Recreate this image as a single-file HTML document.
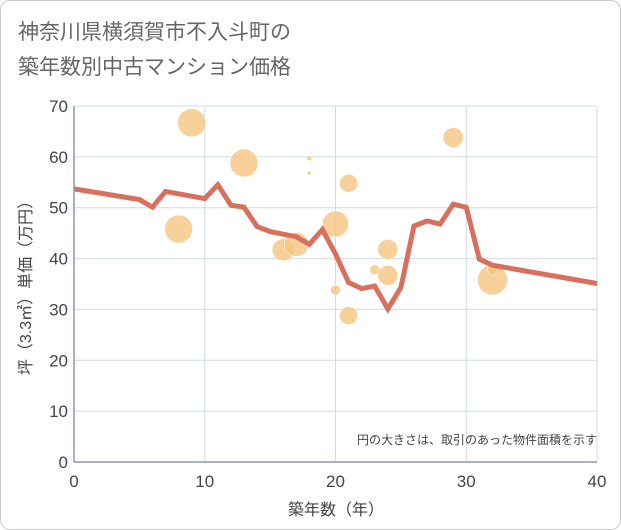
<!DOCTYPE html>
<html><head><meta charset="utf-8"><style>
body{margin:0;background:#fff;font-family:"Liberation Sans","Noto Sans CJK JP",sans-serif;}
#wrap{position:relative;width:619px;height:528px;border:1px solid #ccc;border-radius:10px;overflow:hidden;}
</style></head><body>
<div id="wrap">
<svg id="chart" width="621" height="530" font-family="Liberation Sans, Noto Sans CJK JP, sans-serif">
<text x="17" y="38" font-size="21" fill="#666">神奈川県横須賀市不入斗町の</text>
<text x="17" y="73" font-size="21" fill="#666">築年数別中古マンション価格</text>
<g id="grid"></g><g id="bubbles"></g><g id="line"></g><g id="axes"></g>
<text x="596" y="443" font-size="12" fill="#444" text-anchor="end">円の大きさは、取引のあった物件面積を示す</text>
<text x="335" y="514" font-size="16" fill="#444" text-anchor="middle">築年数（年）</text>
<text transform="translate(30,283) rotate(-90)" font-size="16" fill="#444" text-anchor="middle">坪（3.3㎡）単価（万円）</text>
</svg></div>
<script>
const xTicks=[0,10,20,30,40];
const yTicks=[0,10,20,30,40,50,60,70];
const lineYears=[0,5,6,7,10,11,12,13,14,15,17,18,19,20,21,22,23,24,25,26,27,28,29,30,31,32,40];
const lineValues=[53.7,51.6,50.1,53.2,51.8,54.5,50.5,50.1,46.3,45.3,44.3,42.8,45.7,40.9,35.3,34.1,34.6,30.1,34.3,46.4,47.4,46.8,50.7,50.1,39.9,38.7,35.1];
const bubbleYears=[9,13,18,18,21,8,16,17,20,20,20,21,23,24,24,29,32,32];
const bubbleValues=[66.7,58.8,59.7,56.8,54.8,45.8,41.7,42.8,46.8,39.9,33.8,28.8,37.8,41.8,36.7,63.8,35.8,37.8];
const bubbleSizes=[14,14,2.5,2,9,14,11,12,13,2,5,9,5,10,10,10,15,5];
const X=v=>73+v*523/40, Y=v=>461-v*356/70;
const NS="http://www.w3.org/2000/svg";
function mk(t,a,p){const e=document.createElementNS(NS,t);for(const k in a)e.setAttribute(k,a[k]);p.appendChild(e);return e;}
const grid=document.getElementById('grid'),axes=document.getElementById('axes');
xTicks.forEach(t=>{const l=mk('line',{x1:X(t),x2:X(t),y1:Y(70),y2:Y(0),stroke:'#cfdbe8','stroke-width':1},grid);


const tx=mk('text',{x:X(t),y:486,'font-size':17,fill:'#445','text-anchor':'middle'},axes);tx.textContent=t;

});
yTicks.forEach(t=>{const l=mk('line',{x1:X(0),x2:X(40),y1:Y(t),y2:Y(t),stroke:'#cfdbe8','stroke-width':1},grid);


const tx=mk('text',{x:67,y:Y(t)+6,'font-size':17,fill:'#445','text-anchor':'end'},axes);tx.textContent=t;

});
const ax=mk('line',{x1:X(0),x2:X(0),y1:Y(70),y2:Y(0),stroke:'#8a9aab','stroke-width':1.5},axes);


const bx=mk('line',{x1:X(0),x2:X(40),y1:Y(0),y2:Y(0),stroke:'#8a9aab','stroke-width':1.5},axes);


const bg=document.getElementById('bubbles');
bubbleYears.forEach((yr,i)=>{const c=mk('circle',{cx:X(yr),cy:Y(bubbleValues[i]),r:bubbleSizes[i],fill:'#f5c67f','fill-opacity':0.8,stroke:'#fff','stroke-width':0.5},bg);

});
const p=mk('polyline',{points:lineYears.map((y,i)=>X(y)+','+Y(lineValues[i])).join(' '),fill:'none',stroke:'#d9705e','stroke-width':5,'stroke-linejoin':'miter'},document.getElementById('line'));


</script></body></html>
